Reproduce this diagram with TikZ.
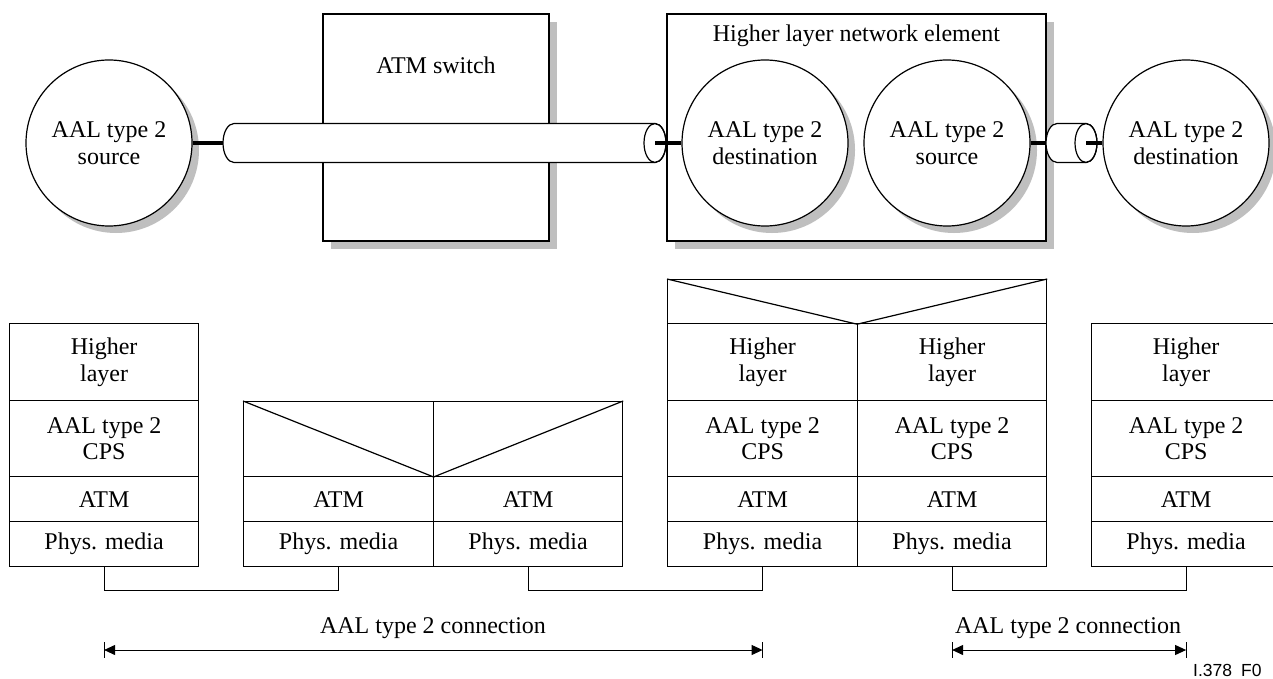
\documentclass[tikz,border=0pt]{standalone}
\usepackage{fontspec}
\setmainfont{Liberation Serif}
\newfontfamily\figsans{Liberation Sans}
\usetikzlibrary{arrows.meta,calc}
\tikzset{
  ln/.style={line width=1.2pt},
  bar/.style={line width=4pt},
  shade/.style={fill=black!25, draw=none},
  circ/.style={circle, draw, line width=1.2pt, fill=white, minimum size=166pt, inner sep=0pt, align=center},
  cell/.style={draw, line width=1.2pt, anchor=north west, inner sep=0pt, align=center},
  dim/.style={line width=1pt, {Triangle[length=11pt,width=10pt]}-{Triangle[length=11pt,width=10pt]}},
  elx/.style={x radius=11pt, y radius=19.5pt},
}
\newcommand\fullstack[3]{%
  \node[cell, minimum width=#3pt, minimum height=77pt] (#1a) at (#2,323) {Higher\\layer};
  \node[cell, minimum width=#3pt, minimum height=76pt] (#1b) at (#2,400) {AAL type 2\\CPS};
  \node[cell, minimum width=#3pt, minimum height=45pt] (#1c) at (#2,476) {ATM};
  \node[cell, minimum width=#3pt, minimum height=45pt] (#1d) at (#2,521) {Phys. media};
}
\begin{document}
\begin{tikzpicture}[x=1pt,y=-1pt, every node/.style={font=\fontsize{24}{26.5}\selectfont}]
\useasboundingbox (0,0) rectangle (1273,679);

% ATM switch
\fill[shade] (331,22) rectangle (557,249);
\node[draw, ln, fill=white, minimum width=226pt, minimum height=227pt, inner sep=0pt] (sw) at (436,127.5) {};
\node (swt) at (436,65) {ATM switch};

% Higher layer network element
\fill[shade] (675,22) rectangle (1054,249);
\node[draw, ln, fill=white, minimum width=379pt, minimum height=227pt, inner sep=0pt] (ne) at (856.5,127.5) {};
\node (net) at (856.5,36) {Higher layer network element};

% circle shadows
\foreach \x/\y in {109/143, 765/143, 947/143, 1186/143} \fill[shade] (\x+7,\y+7) circle [radius=83pt];

\node[circ] (s1) at (109,143) {AAL type 2\\source};
\node[circ] (d1) at (765,143) {AAL type 2\\destination};
\node[circ] (s2) at (947,143) {AAL type 2\\source};
\node[circ] (d2) at (1186,143) {AAL type 2\\destination};

% long cylinder
\draw[ln, fill=white] (234,123.5) -- (655,123.5) arc[start angle=90, end angle=-90, elx] -- (234,162.5) arc[start angle=270, end angle=90, elx] -- cycle;
\draw[ln] (655,143) ellipse [elx];
\coordinate (c1L) at (223,143);
\coordinate (c1R) at (655,143);
\draw[bar] (s1.east) -- (c1L);
\draw[bar] (c1R) -- (d1.west);

% short cylinder
\draw[ln, fill=white] (1057,123.5) -- (1086,123.5) arc[start angle=90, end angle=-90, elx] -- (1057,162.5) arc[start angle=270, end angle=90, elx] -- cycle;
\draw[ln] (1086,143) ellipse [elx];
\coordinate (c2L) at (1046,143);
\coordinate (c2R) at (1086,143);
\draw[bar] (s2.east) -- (c2L);
\draw[bar] (c2R) -- (d2.west);

% protocol stacks
\fullstack{L}{9}{189}
\fullstack{H}{667}{190}
\fullstack{G}{857}{189}
\fullstack{R}{1091}{189}

\node[cell, minimum width=190pt, minimum height=75pt] (Pt) at (243,401) {};
\node[cell, minimum width=190pt, minimum height=45pt] (Pc) at (243,476) {ATM};
\node[cell, minimum width=190pt, minimum height=45pt] (Pd) at (243,521) {Phys. media};
\node[cell, minimum width=189pt, minimum height=75pt] (Qt) at (433,401) {};
\node[cell, minimum width=189pt, minimum height=45pt] (Qc) at (433,476) {ATM};
\node[cell, minimum width=189pt, minimum height=45pt] (Qd) at (433,521) {Phys. media};
\draw[ln] (Pt.north west) -- (Pt.south east);
\draw[ln] (Qt.north east) -- (Qt.south west);

\node[cell, minimum width=379pt, minimum height=44pt] (Ht) at (667,279) {};
\draw[ln] (Ht.north west) -- (Ht.south) -- (Ht.north east);

% physical links
\draw[ln] (Ld.south) -- ++(0,23) -| (Pd.south);
\draw[ln] (Qd.south) -- ++(0,23) -| (Hd.south);
\draw[ln] (Gd.south) -- ++(0,23) -| (Rd.south);

% AAL type 2 connections
\coordinate (ay) at (0,650);
\coordinate (a1L) at (Ld.south |- ay);
\coordinate (a1R) at (Hd.south |- ay);
\coordinate (a2L) at (Gd.south |- ay);
\coordinate (a2R) at (Rd.south |- ay);
\draw[dim] (a1L) -- (a1R);
\draw[dim] (a2L) -- (a2R);
\foreach \p in {a1L,a1R,a2L,a2R} \draw[ln] ($(\p)+(0,-8)$) -- ($(\p)+(0,8)$);
\node (t1) at (433,628) {AAL type 2 connection};
\node (t2) at (1068,628) {AAL type 2 connection};

\node[font=\figsans\fontsize{17.5}{19}\selectfont, anchor=base west, inner sep=0pt] (fig) at (1193,676) {I.378\hspace{9pt}F0};
\end{tikzpicture}
\end{document}
